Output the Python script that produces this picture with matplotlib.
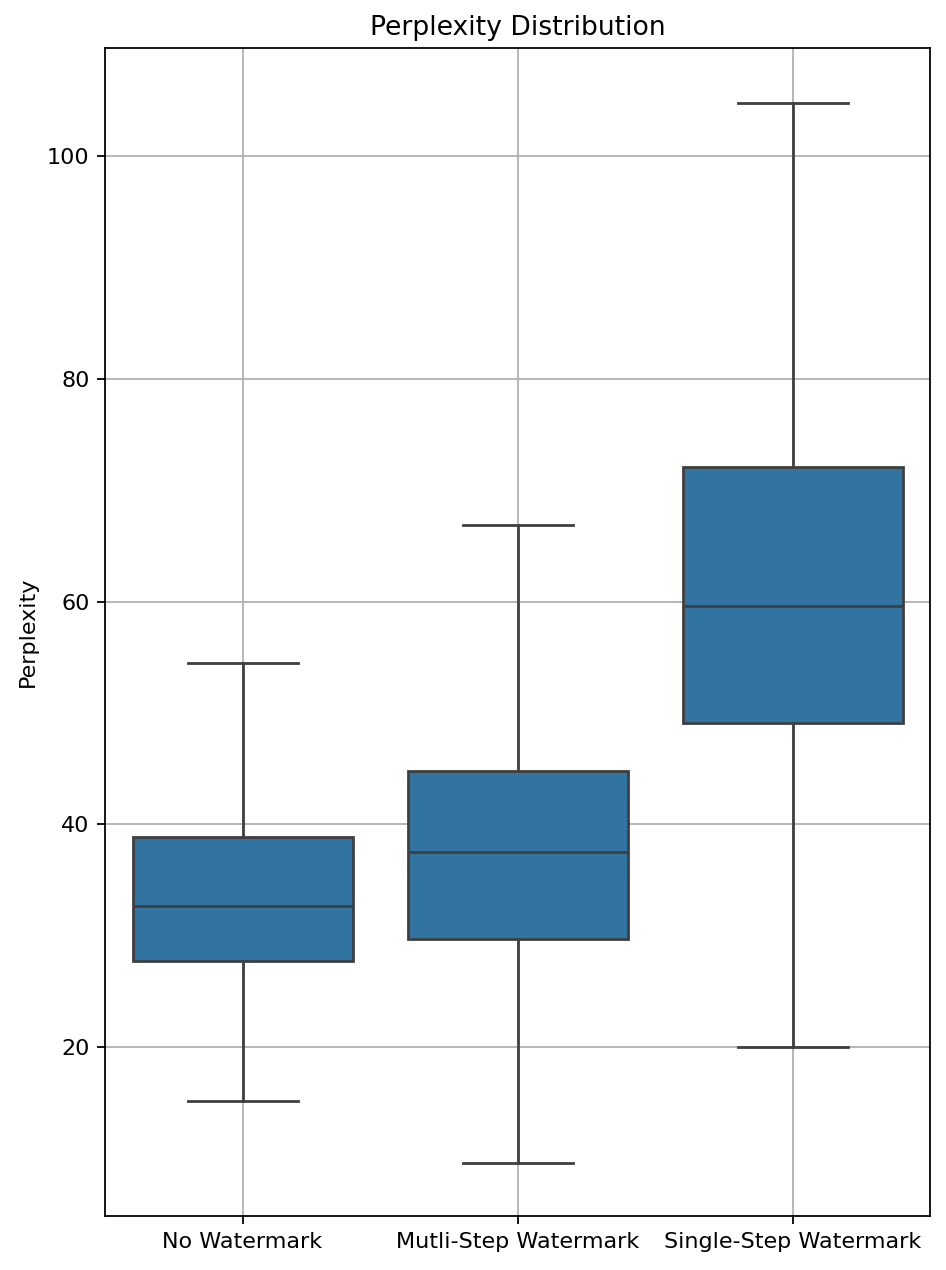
import matplotlib
matplotlib.use("Agg")
import matplotlib.pyplot as plt

# Valores (estatísticas das caixas)
categorias = ["No Watermark", "Mutli-Step Watermark", "Single-Step Watermark"]
whisker_baixo = [15.2, 9.6, 20.0]
q1 = [27.7, 29.7, 49.1]
mediana = [32.7, 37.5, 59.6]
q3 = [38.9, 44.8, 72.1]
whisker_alto = [54.5, 66.9, 104.8]

stats = []
for i, nome in enumerate(categorias):
    stats.append({
        "label": nome,
        "whislo": whisker_baixo[i],
        "q1": q1[i],
        "med": mediana[i],
        "q3": q3[i],
        "whishi": whisker_alto[i],
        "fliers": [],
    })

dpi = 160
fig = plt.figure(figsize=(946 / dpi, 1270 / dpi), dpi=dpi)
ax = fig.add_axes([105 / 946, 1 - 1216 / 1270, (930 - 105) / 946, (1216 - 48) / 1270])

cor_linha = "#3f3f3f"
ax.bxp(stats, positions=range(len(categorias)), widths=0.8, patch_artist=True,
       showfliers=False,
       boxprops=dict(facecolor="#3274a1", edgecolor=cor_linha, linewidth=1.25),
       medianprops=dict(color=cor_linha, linewidth=1.25),
       whiskerprops=dict(color=cor_linha, linewidth=1.25),
       capprops=dict(color=cor_linha, linewidth=1.25),
       capwidths=0.4, zorder=3)

ax.set_xlim(-0.5, len(categorias) - 0.5)
ax.set_ylim(4.83, 109.7)
ax.set_xticks(range(len(categorias)))
ax.set_xticklabels(categorias)
ax.grid(True, color="#b0b0b0", linewidth=0.8)
ax.set_axisbelow(True)
ax.set_ylabel("Perplexity")
ax.set_title("Perplexity Distribution")

fig.savefig("out.png", dpi=dpi)
